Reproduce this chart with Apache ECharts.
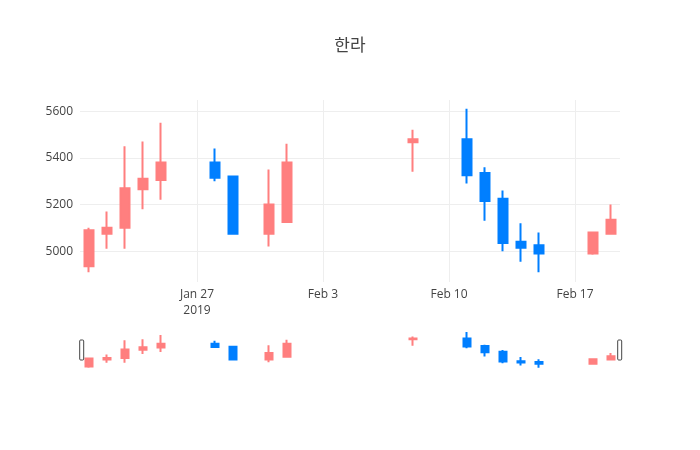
<!DOCTYPE html>
<html>
<head>
<meta charset="utf-8">
<script src="https://cdn.jsdelivr.net/npm/echarts@6/dist/echarts.min.js"></script>
<style>
  html, body { margin: 0; padding: 0; background: #fff; }
  #chart { width: 700px; height: 450px; }
</style>
</head>
<body>
<div id="chart"></div>
<script>
// trading days and prices
const dates = [
  '2019-01-21', '2019-01-22', '2019-01-23', '2019-01-24', '2019-01-25',
  '2019-01-28', '2019-01-29', '2019-01-31', '2019-02-01', '2019-02-08',
  '2019-02-11', '2019-02-12', '2019-02-13', '2019-02-14', '2019-02-15',
  '2019-02-18', '2019-02-19',
];
const opens = [4935, 5075, 5100, 5265, 5305, 5380, 5320, 5075, 5125, 5467, 5480, 5335, 5225, 5040, 5025, 4990, 5075];
const closes = [5090, 5100, 5270, 5310, 5380, 5315, 5075, 5200, 5380, 5480, 5325, 5215, 5035, 5015, 4990, 5080, 5135];
const lows = [4910, 5010, 5010, 5180, 5220, 5300, 5070, 5020, 5125, 5340, 5290, 5130, 5000, 4955, 4910, 4985, 5075];
const highs = [5100, 5170, 5450, 5470, 5550, 5440, 5320, 5350, 5460, 5520, 5610, 5360, 5260, 5120, 5080, 5080, 5200];

const tickDates = ['2019-01-27', '2019-02-03', '2019-02-10', '2019-02-17'];
const monthNames = ['Jan', 'Feb', 'Mar', 'Apr', 'May', 'Jun', 'Jul', 'Aug', 'Sep', 'Oct', 'Nov', 'Dec'];

const UP = '#ff7f7f';
const DOWN = '#007fff';

function toTime(s) {
  const p = s.split('-');
  return new Date(+p[0], +p[1] - 1, +p[2]).getTime();
}

const candles = dates.map((d, i) => [toTime(d), opens[i], closes[i], lows[i], highs[i]]);
const tickValues = tickDates.map(toTime);
const xMin = new Date(2019, 0, 20, 12).getTime();
const xMax = new Date(2019, 1, 19, 12).getTime();

const chart = echarts.init(document.getElementById('chart'));

const candleStyle = {
  color: UP,
  color0: DOWN,
  borderColor: UP,
  borderColor0: DOWN,
  borderWidth: 2,
};

chart.setOption({
  animation: false,
  title: {
    text: '한라',
    left: 'center',
    top: 33,
    textStyle: {
      fontFamily: '"Open Sans", "Noto Sans CJK KR", sans-serif',
      fontSize: 17,
      fontWeight: 'normal',
      color: '#444',
    },
  },
  grid: [
    { left: 80, right: 80, top: 100, height: 182 },
    { left: 80, right: 80, top: 330, height: 40 },
  ],
  xAxis: [
    {
      type: 'value',
      gridIndex: 0,
      min: xMin,
      max: xMax,
      axisLine: { show: false },
      axisTick: { show: false, customValues: tickValues },
      splitLine: { show: true, lineStyle: { color: '#eee', width: 1 } },
      axisLabel: {
        customValues: tickValues,
        margin: 5,
        color: '#444',
        fontSize: 12,
        fontFamily: '"Open Sans", sans-serif',
        lineHeight: 16,
        formatter: function (value) {
          const d = new Date(value);
          let s = monthNames[d.getMonth()] + ' ' + d.getDate();
          if (value === tickValues[0]) s += '\n' + d.getFullYear();
          return s;
        },
      },
    },
    {
      type: 'value',
      gridIndex: 1,
      min: xMin,
      max: xMax,
      show: false,
    },
  ],
  yAxis: [
    {
      type: 'value',
      gridIndex: 0,
      min: 4868,
      max: 5648,
      axisLine: { show: false },
      axisTick: { show: false },
      splitLine: { show: true, showMinLine: false, showMaxLine: false, lineStyle: { color: '#eee', width: 1 } },
      axisLabel: {
        showMinLabel: false,
        showMaxLabel: false,
        margin: 7,
        color: '#444',
        fontSize: 12,
        fontFamily: '"Open Sans", sans-serif',
        formatter: function (value) { return String(value); },
      },
    },
    {
      type: 'value',
      gridIndex: 1,
      min: 4868,
      max: 5648,
      show: false,
    },
  ],
  dataZoom: [
    {
      type: 'slider',
      xAxisIndex: 1,
      filterMode: 'none',
      start: 0,
      end: 100,
      left: 80,
      right: 80,
      top: 330,
      height: 40,
      showDetail: false,
      showDataShadow: false,
      brushSelect: false,
      realtime: false,
      backgroundColor: 'rgba(0,0,0,0)',
      fillerColor: 'rgba(0,0,0,0)',
      borderColor: 'rgba(0,0,0,0)',
      moveHandleSize: 0,
      moveHandleStyle: { opacity: 0 },
      handleIcon: 'path://M1,0 h2 a1,1 0 0 1 1,1 v18 a1,1 0 0 1 -1,1 h-2 a1,1 0 0 1 -1,-1 v-18 a1,1 0 0 1 1,-1 z',
      handleSize: 20,
      handleStyle: { color: '#fff', borderColor: '#444', borderWidth: 1 },
      emphasis: { handleStyle: { color: '#fff', borderColor: '#444', borderWidth: 1 } },
    },
  ],
  series: [
    {
      type: 'candlestick',
      xAxisIndex: 0,
      yAxisIndex: 0,
      data: candles,
      encode: { x: 0, y: [1, 2, 3, 4] },
      barWidth: 9,
      itemStyle: candleStyle,
    },
    {
      type: 'candlestick',
      xAxisIndex: 1,
      yAxisIndex: 1,
      data: candles,
      encode: { x: 0, y: [1, 2, 3, 4] },
      barWidth: 8,
      itemStyle: candleStyle,
      silent: true,
    },
  ],
});
</script>
</body>
</html>
